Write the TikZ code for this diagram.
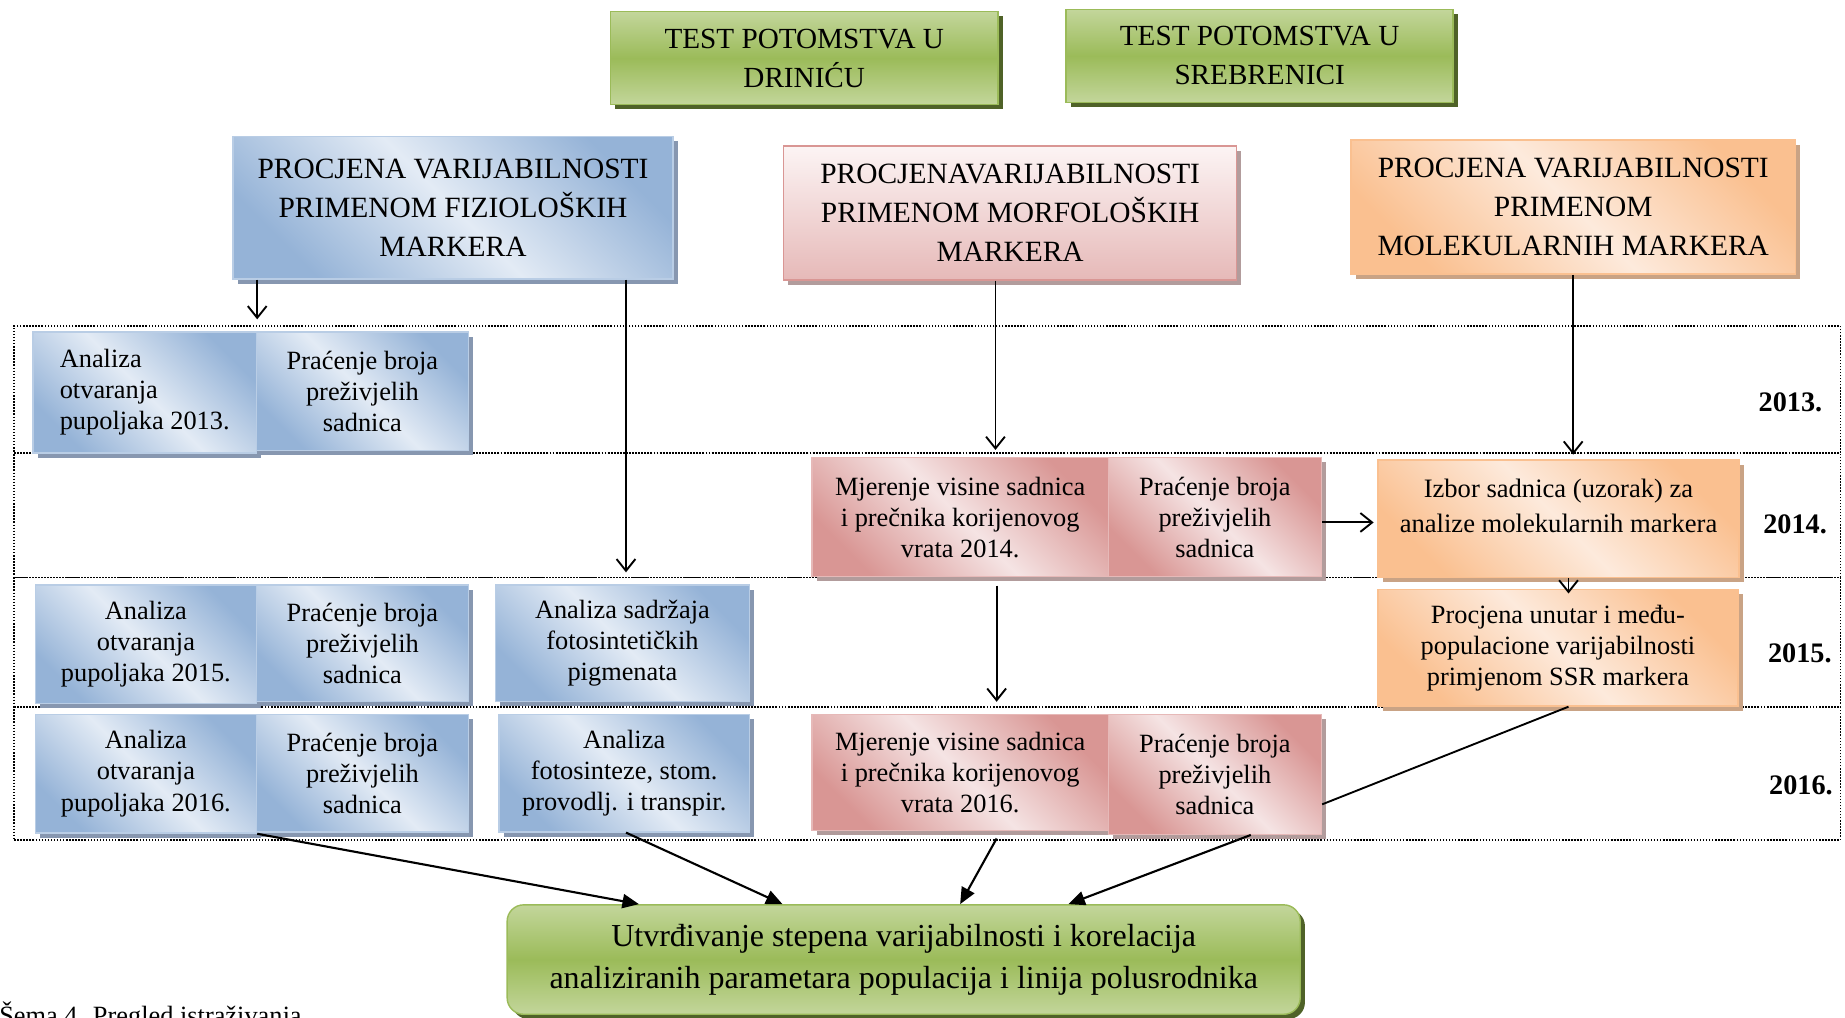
\documentclass[tikz,border=0pt]{standalone}
\usepackage{fontspec}
\setmainfont{Liberation Serif}
\usetikzlibrary{shadows,arrows.meta,calc}
\definecolor{bD}{HTML}{95B3D7}
\definecolor{bL}{HTML}{E3EBF5}
\definecolor{bBr}{HTML}{B9CDE5}
\definecolor{bSh}{HTML}{8797B0}
\definecolor{rD}{HTML}{D99694}
\definecolor{rL}{HTML}{F5E4E4}
\definecolor{rBr}{HTML}{E6B9B8}
\definecolor{rSh}{HTML}{B29C9C}
\definecolor{hpT}{HTML}{FCF4F4}
\definecolor{hpB}{HTML}{E6B9B8}
\definecolor{oD}{HTML}{FAC090}
\definecolor{oL}{HTML}{FDEADC}
\definecolor{oBr}{HTML}{FAC090}
\definecolor{oSh}{HTML}{C9A385}
\definecolor{gL}{HTML}{C3D69B}
\definecolor{gD}{HTML}{9BBB59}
\definecolor{gBr}{HTML}{9BBB59}
\definecolor{gSh}{HTML}{4F6228}
\tikzset{
  sz/.style 2 args={minimum width=#1*0.5pt, minimum height=#2*0.5pt},
  base/.style={rectangle, inner sep=0pt, align=center, line width=0.6pt},
  smallf/.style={font=\fontsize{11.2}{13.2}\selectfont},
  headf/.style={font=\fontsize{12.5}{16.5}\selectfont},
  bluebox/.style={base, smallf, draw=bBr, top color=bD, bottom color=bD, middle color=bL, shading angle=-45,
    drop shadow={shadow xshift=2pt, shadow yshift=-2pt, fill=bSh, opacity=1}},
  bluehead/.style={bluebox, headf},
  redbox/.style={base, smallf, draw=rBr, top color=rD, bottom color=rD, middle color=rL, shading angle=-45,
    drop shadow={shadow xshift=2pt, shadow yshift=-2pt, fill=rSh, opacity=1}},
  redhead/.style={base, headf, draw=rD, top color=hpT, bottom color=hpB,
    drop shadow={shadow xshift=2pt, shadow yshift=-2pt, fill=rSh, opacity=1}},
  orabox/.style={base, smallf, draw=oBr, top color=oD, bottom color=oD, middle color=oL, shading angle=-45,
    drop shadow={shadow xshift=2pt, shadow yshift=-2pt, fill=oSh, opacity=1}},
  orahead/.style={orabox, headf},
  greenbox/.style={base, font=\fontsize{12.4}{16.5}\selectfont, draw=gBr, top color=gL, bottom color=gL, middle color=gD,
    drop shadow={shadow xshift=2pt, shadow yshift=-2pt, fill=gSh, opacity=1}},
  rowbox/.style={rectangle, inner sep=0pt, draw=black, line width=0.6pt, dash pattern=on 0.6pt off 0.7pt},
  yearf/.style={inner sep=0pt, anchor=east, font=\fontsize{12}{14}\selectfont\bfseries},
  oarr/.style={draw=black, line width=0.8pt, -{Straight Barb[length=5pt,width=8pt,line width=0.8pt]}},
  farr/.style={draw=black, line width=0.9pt, -{Triangle[length=7pt,width=6pt]}},
  plainline/.style={draw=black, line width=0.8pt},
}
\begin{document}
\begin{tikzpicture}[x=0.5pt,y=-0.5pt]
\useasboundingbox (0,0) rectangle (1568,865);
% rows
\node[rowbox, sz={1552}{108}] (r13) at (788,331) {};
\node[rowbox, sz={1552}{106}] (r14) at (788,438) {};
\node[rowbox, sz={1552}{110}] (r15) at (788,546) {};
\node[rowbox, sz={1552}{113}] (r16) at (788,657.5) {};
\node[yearf] (y13) at (1549,342) {2013.};
\node[yearf] (y14) at (1553,446) {2014.};
\node[yearf] (y15) at (1557,555) {2015.};
\node[yearf] (y16) at (1558,667) {2016.};
% top
\node[greenbox, sz={329}{79}] (g1) at (683.5,49.5) {TEST POTOMSTVA U\\DRINIĆU};
\node[greenbox, sz={329}{79}] (g2) at (1070.5,47.5) {TEST POTOMSTVA U\\SREBRENICI};
% headers
\node[bluehead, sz={374}{121}] (hb) at (385,176.5) {PROCJENA VARIJABILNOSTI\\PRIMENOM FIZIOLOŠKIH\\MARKERA};
\node[redhead, sz={385}{114}] (hp) at (858.5,181) {PROCJENAVARIJABILNOSTI\\PRIMENOM MORFOLOŠKIH\\MARKERA};
\node[orahead, sz={378}{114}] (ho) at (1337,176) {PROCJENA VARIJABILNOSTI\\PRIMENOM\\MOLEKULARNIH MARKERA};
% 2013
\node[bluebox, sz={190}{103}, align=left] (a13) at (123,333.5) {Analiza\\otvaranja\\pupoljaka 2013.};
\node[bluebox, sz={180}{101}] (p13) at (308,332.5) {Praćenje broja\\preživjelih\\sadnica};
% 2014
\node[redbox, sz={252}{101}] (m14) at (816,439.5) {Mjerenje visine sadnica\\i prečnika korijenovog\\vrata 2014.};
\node[redbox, sz={181}{101}] (p14) at (1032.5,439.5) {Praćenje broja\\preživjelih\\sadnica};
\node[orabox, sz={307}{100}, font=\fontsize{11.3}{15}\selectfont] (izb) at (1324.5,441) {Izbor sadnica (uzorak) za\\analize molekularnih markera\\[-4pt]\mbox{}};
% 2015
\node[bluebox, sz={188}{101}] (a15) at (124,547.5) {Analiza\\otvaranja\\pupoljaka 2015.};
\node[bluebox, sz={180}{99}] (p15) at (308,546.5) {Praćenje broja\\preživjelih\\sadnica};
\node[bluebox, sz={216}{99}] (pig) at (529,546.5) {Analiza sadržaja\\fotosintetičkih\\pigmenata};
\node[orabox, sz={306}{99}] (pr) at (1324,550.5) {Procjena unutar i među-\\populacione varijabilnosti\\primjenom SSR markera};
% 2016
\node[bluebox, sz={188}{101}] (a16) at (124,657.5) {Analiza\\otvaranja\\pupoljaka 2016.};
\node[bluebox, sz={180}{100}] (p16) at (308,657) {Praćenje broja\\preživjelih\\sadnica};
\node[bluebox, sz={213}{100}] (ph16) at (530.5,657) {Analiza\\fotosinteze, stom.\\provodlj. i transpir.};
\node[redbox, sz={252}{99}] (m16) at (816,656.5) {Mjerenje visine sadnica\\i prečnika korijenovog\\vrata 2016.};
\node[redbox, sz={181}{102}] (p16m) at (1032.5,658) {Praćenje broja\\preživjelih\\sadnica};
% final
\node[greenbox, sz={674}{93}, rounded corners=7pt, font=\fontsize{13.6}{18}\selectfont] (fin) at (768,815.5) {Utvrđivanje stepena varijabilnosti i korelacija\\analiziranih parametara populacija i linija polusrodnika};
% caption (cut by the page edge)
\node[anchor=base west, inner sep=0pt, font=\fontsize{11.2}{13}\selectfont] (cap) at (-1,871) {Šema 4. Pregled istraživanja};
% connectors
\draw[oarr] (hb.south -| a13.east) -- ([yshift=2.5pt]a13.east |- r13.north);
\draw[oarr] (hb.south -| 532,0) -- ([yshift=5pt]pig.north -| 532,0);
\draw[oarr] (hp.south -| 846,0) -- ([yshift=3pt]m14.north -| 846,0);
\draw[oarr] (ho.south) -- ([yshift=2pt]izb.north -| ho.south);
\draw[oarr] (p14.east |- 0,444) -- ([xshift=-1.5pt]izb.west |- 0,444);
\draw[oarr] (izb.south -| 1333,0) -- ([yshift=-2pt]pr.north -| 1333,0);
\draw[oarr] ([yshift=-3.5pt]m14.south -| 847,0) -- ([yshift=5pt]m16.north -| 847,0);
\draw[plainline] (pr.south -| 1333,0) -- ([yshift=13pt]p16m.south east);
\draw[farr] (a16.south east) -- (fin.north -| 543,0);
\draw[farr] (ph16.south -| 532,0) -- (fin.north -| 665,0);
\draw[farr] ([yshift=-3pt]m16.south -| 847,0) -- (fin.north -| 816,0);
\draw[farr] (p16m.south -| 1063,0) -- (fin.north -| 908,0);
\end{tikzpicture}
\end{document}
